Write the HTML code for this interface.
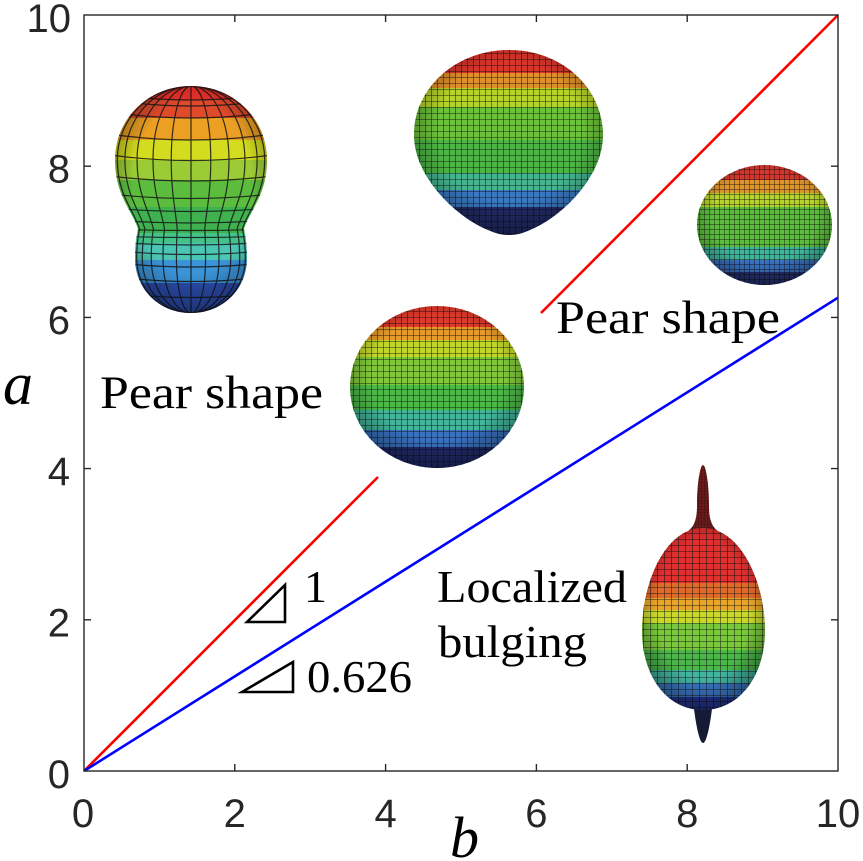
<!DOCTYPE html>
<html>
<head>
<meta charset="utf-8">
<style>
  html,body{margin:0;padding:0;background:#fff;}
  svg{display:block;}
</style>
</head>
<body>
<svg width="863" height="861" viewBox="0 0 863 861" xmlns="http://www.w3.org/2000/svg">
  <defs>
    <pattern id="g6" width="6" height="6" patternUnits="userSpaceOnUse">
      <path d="M6,0 V6 M0,6 H6" stroke="#0a0a0a" stroke-width="1.1" fill="none" opacity="0.85"/>
    </pattern>
    <pattern id="g5" width="5" height="5" patternUnits="userSpaceOnUse">
      <path d="M5,0 V5 M0,5 H5" stroke="#0a0a0a" stroke-width="1" fill="none" opacity="0.85"/>
    </pattern>
    <pattern id="g7" width="7" height="6" patternUnits="userSpaceOnUse">
      <path d="M7,0 V6 M0,6 H7" stroke="#0a0a0a" stroke-width="1.1" fill="none" opacity="0.85"/>
    </pattern>
    <pattern id="g3" width="3" height="3" patternUnits="userSpaceOnUse">
      <path d="M3,0 V3 M0,3 H3" stroke="#111" stroke-width="0.8" fill="none" opacity="0.7"/>
    </pattern>
    <radialGradient id="sh" cx="0.5" cy="0.45" r="0.58">
      <stop offset="0.62" stop-color="#000" stop-opacity="0"/>
      <stop offset="1" stop-color="#000" stop-opacity="0.45"/>
    </radialGradient>

    <path id="pk" vector-effect="non-scaling-stroke" d="M191,86 C233,86 267,118 267,160 C267,195 249,212 244,229 C246,238 247,246 247,258 C247,290 222,313 191,313 C160,313 135,290 135,258 C135,246 136,238 138,229 C133,212 115,195 115,160 C115,118 149,86 191,86 Z"/>

    <clipPath id="cPk"><use href="#pk"/></clipPath>
    <clipPath id="cTc"><path d="M509,50 C562,50 603,88 603,135 C603,178 560,218 530,230 C521,234 515,235 509,235 C503,235 497,234 488,230 C458,218 414,178 414,135 C414,88 456,50 509,50 Z"/></clipPath>
    <clipPath id="cMid"><ellipse cx="437" cy="387" rx="87" ry="81"/></clipPath>
    <clipPath id="cRt"><ellipse cx="764.5" cy="225" rx="67.5" ry="60"/></clipPath>
    <clipPath id="cBody"><path d="M703,528 C742,528 765,585 765,630 C765,678 738,710 703,710 C668,710 642,678 642,630 C642,585 664,528 703,528 Z"/></clipPath>
    <clipPath id="cSpT"><path d="M684,534 C694,528 697,521 697,505 C697,485 700,465 703,465 C706,465 709,485 709,505 C709,521 712,528 722,534 Z"/></clipPath>
    <clipPath id="cSpB"><path d="M693,700 L713,700 C711,720 707,743 703,743 C699,743 695,720 693,700 Z"/></clipPath>
  </defs>

  <rect width="863" height="861" fill="#fff"/>

  <!-- Series lines -->
  <line x1="84" y1="771" x2="378" y2="477" stroke="#ff0000" stroke-width="2.6"/>
  <line x1="541" y1="313" x2="838" y2="15" stroke="#ff0000" stroke-width="2.6"/>
  <line x1="84" y1="771" x2="838" y2="297.7" stroke="#0000ff" stroke-width="2.6"/>

  <!-- Peanut shape (top-left) -->
  <g clip-path="url(#cPk)">
    <rect x="110" y="80" width="165" height="20" fill="#e8312a"/>
    <rect x="110" y="100" width="165" height="18" fill="#df4a2b"/>
    <rect x="110" y="118" width="165" height="22" fill="#eba023"/>
    <rect x="110" y="140" width="165" height="20" fill="#d3dc1f"/>
    <rect x="110" y="160" width="165" height="20" fill="#9ccc35"/>
    <rect x="110" y="180" width="165" height="27" fill="#5cbc3e"/>
    <rect x="110" y="207" width="165" height="26" fill="#3fb24f"/>
    <rect x="110" y="233" width="165" height="10" fill="#44c28a"/>
    <rect x="110" y="243" width="165" height="17" fill="#4cc6b4"/>
    <rect x="110" y="260" width="165" height="23" fill="#3b94d8"/>
    <rect x="110" y="283" width="165" height="35" fill="#2b4cae"/>
    <g fill="none" stroke="#151515" stroke-width="1.2" opacity="0.85">
      <path d="M191,86 V313"/>
      <use href="#pk" transform="translate(191,0) scale(0.26,1) translate(-191,0)"/>
      <use href="#pk" transform="translate(191,0) scale(0.5,1) translate(-191,0)"/>
      <use href="#pk" transform="translate(191,0) scale(0.71,1) translate(-191,0)"/>
      <use href="#pk" transform="translate(191,0) scale(0.87,1) translate(-191,0)"/>
      <use href="#pk" transform="translate(191,0) scale(0.97,1) translate(-191,0)"/>
      <path d="M110,94 Q191,106 272,94"/>
      <path d="M110,100 Q191,112 272,100"/>
      <path d="M110,112 Q191,124 272,112"/>
      <path d="M110,134 Q191,146 272,134"/>
      <path d="M110,155 Q191,166 272,155"/>
      <path d="M110,176 Q191,186 272,176"/>
      <path d="M110,194 Q191,203 272,194"/>
      <path d="M110,208 Q191,215 272,208"/>
      <path d="M110,220 Q191,226 272,220"/>
      <path d="M110,229 Q191,232 272,229"/>
      <path d="M110,236 Q191,239 272,236"/>
      <path d="M110,242 Q191,248 272,242"/>
      <path d="M110,250 Q191,259 272,250"/>
      <path d="M110,262 Q191,272 272,262"/>
      <path d="M110,276 Q191,287 272,276"/>
      <path d="M110,292 Q191,303 272,292"/>
    </g>
    <rect x="110" y="80" width="165" height="240" fill="url(#sh)"/>
  </g>

  <!-- Top-center shape -->
  <g clip-path="url(#cTc)">
    <rect x="410" y="45" width="200" height="28" fill="#d9352c"/>
    <rect x="410" y="73" width="200" height="15" fill="#e0902a"/>
    <rect x="410" y="88" width="200" height="19" fill="#b5d42a"/>
    <rect x="410" y="107" width="200" height="33" fill="#6cc23a"/>
    <rect x="410" y="140" width="200" height="33" fill="#4db545"/>
    <rect x="410" y="173" width="200" height="17" fill="#45b590"/>
    <rect x="410" y="190" width="200" height="17" fill="#3a78c0"/>
    <rect x="410" y="207" width="200" height="35" fill="#222c68"/>
    <rect x="410" y="45" width="200" height="195" fill="url(#g6)"/>
    <rect x="410" y="45" width="200" height="195" fill="url(#sh)"/>
  </g>

  <!-- Middle sphere -->
  <g clip-path="url(#cMid)">
    <rect x="345" y="300" width="185" height="27" fill="#dc3a2c"/>
    <rect x="345" y="327" width="185" height="13" fill="#e59a2a"/>
    <rect x="345" y="340" width="185" height="17" fill="#c0d62a"/>
    <rect x="345" y="357" width="185" height="28" fill="#80c83a"/>
    <rect x="345" y="385" width="185" height="25" fill="#4cb848"/>
    <rect x="345" y="410" width="185" height="20" fill="#42b59a"/>
    <rect x="345" y="430" width="185" height="17" fill="#3a72c0"/>
    <rect x="345" y="447" width="185" height="25" fill="#222c6c"/>
    <rect x="345" y="300" width="185" height="172" fill="url(#g6)"/>
    <rect x="345" y="300" width="185" height="172" fill="url(#sh)"/>
  </g>

  <!-- Right sphere -->
  <g clip-path="url(#cRt)">
    <rect x="692" y="160" width="145" height="20" fill="#d5382e"/>
    <rect x="692" y="180" width="145" height="13" fill="#e0952c"/>
    <rect x="692" y="193" width="145" height="14" fill="#b6d22c"/>
    <rect x="692" y="207" width="145" height="40" fill="#5cbc3e"/>
    <rect x="692" y="247" width="145" height="13" fill="#40b59c"/>
    <rect x="692" y="260" width="145" height="12" fill="#3a70c0"/>
    <rect x="692" y="272" width="145" height="16" fill="#263272"/>
    <rect x="692" y="160" width="145" height="128" fill="url(#g5)"/>
    <rect x="692" y="160" width="145" height="128" fill="url(#sh)"/>
  </g>

  <!-- Localized bulging shape -->
  <g clip-path="url(#cSpT)">
    <rect x="680" y="460" width="45" height="80" fill="#6e1a1a"/>
    <rect x="680" y="460" width="45" height="80" fill="url(#g3)"/>
  </g>
  <g clip-path="url(#cSpB)">
    <rect x="690" y="695" width="25" height="50" fill="#151a35"/>
  </g>
  <g clip-path="url(#cBody)">
    <rect x="638" y="524" width="130" height="59" fill="#e03030"/>
    <rect x="638" y="583" width="130" height="15" fill="#e06a2a"/>
    <rect x="638" y="598" width="130" height="12" fill="#e8a52a"/>
    <rect x="638" y="610" width="130" height="13" fill="#c8d82a"/>
    <rect x="638" y="623" width="130" height="27" fill="#78c83a"/>
    <rect x="638" y="650" width="130" height="20" fill="#4ab848"/>
    <rect x="638" y="670" width="130" height="13" fill="#42b5a0"/>
    <rect x="638" y="683" width="130" height="14" fill="#3a78c4"/>
    <rect x="638" y="697" width="130" height="16" fill="#253590"/>
    <rect x="638" y="524" width="130" height="190" fill="url(#g7)"/>
    <rect x="638" y="524" width="130" height="190" fill="url(#sh)"/>
  </g>

  <!-- Axes frame and ticks -->
  <g stroke="#262626" stroke-width="1.4" fill="none">
    <rect x="84" y="15" width="754" height="756"/>
    <path d="M234.8,771 V764 M385.6,771 V764 M536.4,771 V764 M687.2,771 V764"/>
    <path d="M234.8,15 V22 M385.6,15 V22 M536.4,15 V22 M687.2,15 V22"/>
    <path d="M84,619.8 H91 M84,468.6 H91 M84,317.4 H91 M84,166.2 H91"/>
    <path d="M838,619.8 H831 M838,468.6 H831 M838,317.4 H831 M838,166.2 H831"/>
  </g>

  <!-- Tick labels -->
  <g font-family="'Liberation Sans', Arial, sans-serif" font-size="40" fill="#262626" text-anchor="end">
    <text x="70" y="788">0</text>
    <text x="70" y="636.5">2</text>
    <text x="70" y="485">4</text>
    <text x="70" y="334">6</text>
    <text x="70" y="182.5">8</text>
    <text x="71" y="32">10</text>
  </g>
  <g font-family="'Liberation Sans', Arial, sans-serif" font-size="40" fill="#262626" text-anchor="middle">
    <text x="83" y="827">0</text>
    <text x="234.8" y="827">2</text>
    <text x="385.6" y="827">4</text>
    <text x="536.4" y="827">6</text>
    <text x="687.2" y="827">8</text>
    <text x="838" y="827">10</text>
  </g>

  <!-- Axis labels -->
  <g font-family="'Liberation Serif', 'Times New Roman', serif" fill="#000">
    <text x="3" y="404" font-size="60" font-style="italic">a</text>
    <text x="450" y="857" font-size="58" font-style="italic">b</text>

    <!-- Annotations -->
    <text x="100" y="408" font-size="47" textLength="223" lengthAdjust="spacingAndGlyphs">Pear shape</text>
    <text x="556" y="333" font-size="47" textLength="224" lengthAdjust="spacingAndGlyphs">Pear shape</text>
    <text x="437" y="602" font-size="46" textLength="190" lengthAdjust="spacingAndGlyphs">Localized</text>
    <text x="438" y="657" font-size="46" textLength="149" lengthAdjust="spacingAndGlyphs">bulging</text>
    <text x="304" y="602" font-size="46">1</text>
    <text x="307" y="692" font-size="46" textLength="105" lengthAdjust="spacingAndGlyphs">0.626</text>
  </g>

  <g stroke="#000" stroke-width="2.6" fill="none" stroke-linejoin="miter">
    <polygon points="247,622 285,585 285,622"/>
    <polygon points="242,692 293,662 293,692"/>
  </g>
</svg>
</body>
</html>
